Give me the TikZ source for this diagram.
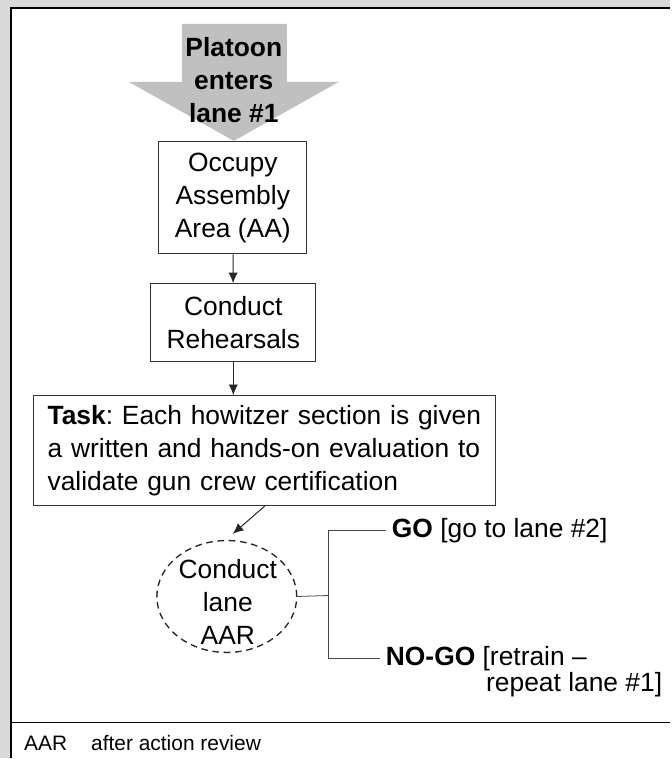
\documentclass[tikz,border=0pt]{standalone}
\usepackage{fontspec}
\setmainfont{Liberation Sans}
\usetikzlibrary{positioning,arrows.meta,shapes.geometric}
\definecolor{framegrey}{RGB}{217,217,217}
\definecolor{arrowgrey}{RGB}{192,192,192}
\definecolor{linegrey}{RGB}{70,70,70}

\begin{document}
\begin{tikzpicture}[
    x=0.75pt, y=-0.75pt,
    >={Latex[length=8pt,width=7pt]},
    every node/.style={font=\fontsize{19.8}{24.75}\selectfont\frenchspacing},
    stepbox/.style={
        draw=black!80,
        line width=0.75pt,
        align=center,
        inner sep=0pt
    },
    taskbox/.style={
        draw=black!80,
        line width=0.75pt,
        align=left,
        inner sep=0pt,
        text width=326pt,
        minimum width=346.5pt,
        minimum height=82.5pt
    },
    review/.style={
        draw=black!85,
        dash pattern=on 5pt off 3.5pt,
        ellipse,
        line width=1pt,
        inner sep=0pt,
        minimum width=105pt,
        minimum height=84pt
    },
    outcome/.style={inner xsep=4.5pt, inner ysep=0pt},
    arrow/.style={->, line width=0.75pt, black!85},
    bracket/.style={draw=linegrey, line width=0.6pt}
]

% FRAME
\fill[framegrey] (0,0) rectangle (671,759);
\fill[white] (11,8) rectangle (671,759);
\draw[line width=1pt] (11,759) -- (11,8) -- (671,8);

% ENTRY ARROW
\fill[arrowgrey] (182,24) -- (287,24) -- (287,82) -- (339,82)
    -- (234,141) -- (129,82) -- (182,82) -- cycle;
\node[font=\fontsize{19.8}{24.75}\selectfont\bfseries, align=center, inner sep=0pt]
    (enter) at (234,80) {Platoon\\enters\\lane \#1};

% STEPS
\node[stepbox, minimum width=111pt, minimum height=84pt] (occupy) at (233,198)
{Occupy\\Assembly\\Area (AA)};

\node[stepbox, minimum width=123.75pt, minimum height=58.5pt] (rehearse) at (233.5,323)
{Conduct\\Rehearsals};

\node[taskbox] (task) at (265,451)
{\textbf{Task}: Each howitzer section is given\\
a written and hands-on evaluation to\\
validate gun crew certification};

\draw[arrow] (occupy) -- (rehearse);
\draw[arrow] (rehearse.south) -- (rehearse.south |- task.north);

% REVIEW
\node[review] (aar) at (227,597) {};
\node[align=center, inner sep=0pt] (aartext) at (228,602) {Conduct\\lane\\AAR};

\draw[arrow] (task.south) -- ([xshift=4.5pt,yshift=4.5pt]aar.north);

% OUTCOMES
\coordinate (split) at (329,596);

\node[outcome, anchor=west] (go) at (386,531)
{\textbf{GO} [go to lane \#2]};

\node[outcome, anchor=west] (nogo) at (380,659)
{\textbf{NO-GO} [retrain --};

\node[inner sep=0pt, anchor=east] (nogonote) at (663,685)
{repeat lane \#1]};

\draw[bracket] (aar.east) -- (split);
\draw[bracket] (go.west) -| (split) |- (nogo.west);

% FOOTNOTE
\draw[line width=0.75pt] (11,723) -- (671,723);
\node[font=\fontsize{15.7}{19}\selectfont, anchor=west, inner sep=0pt] (abbr) at (24,744) {AAR};
\node[font=\fontsize{15.7}{19}\selectfont, anchor=west, inner sep=0pt] (abbrtext) at (91,744) {after action review};

\end{tikzpicture}
\end{document}
